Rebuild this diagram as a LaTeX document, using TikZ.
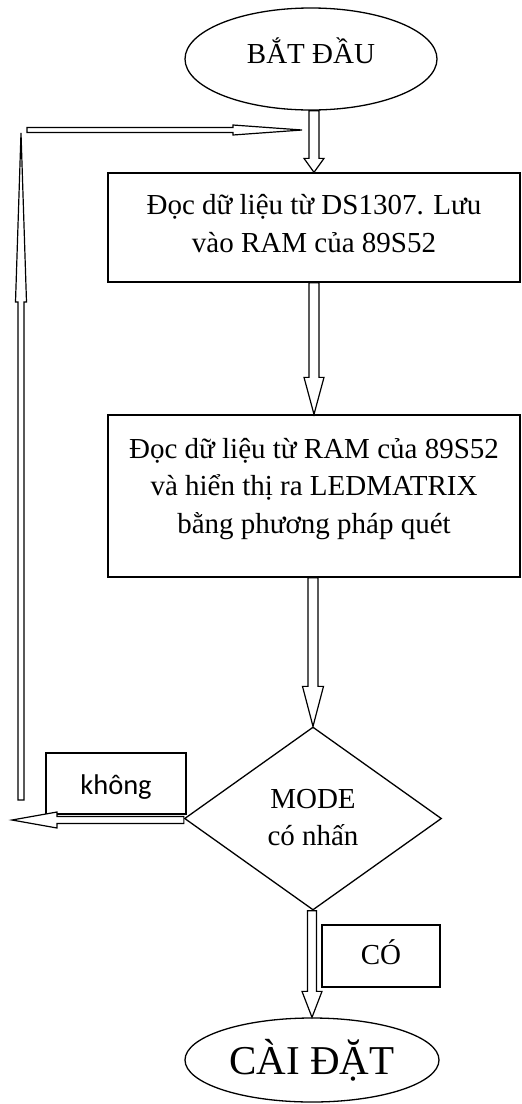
\documentclass[tikz,border=0pt]{standalone}
\usepackage{fontspec}
\setmainfont{Liberation Serif}
\newfontfamily\labelsans{Carlito}
\usetikzlibrary{shapes.geometric,calc}

% hollow block arrow, vertical: start, tip, shaft half width, head half width, head length
\newcommand\vblk[5]{%
  \draw[blk] let \p1=(#1), \p2=(#2), \p3=($(#2)!#5!(#1)$) in
    (\x2-#3,\y1) -- (\x2-#3,\y3) -- (\x2-#4,\y3) -- (\x2,\y2)
    -- (\x2+#4,\y3) -- (\x2+#3,\y3) -- (\x2+#3,\y1) -- cycle;}
% hollow block arrow, horizontal
\newcommand\hblk[5]{%
  \draw[blk] let \p1=(#1), \p2=(#2), \p3=($(#2)!#5!(#1)$) in
    (\x1,\y2-#3) -- (\x3,\y2-#3) -- (\x3,\y2-#4) -- (\x2,\y2)
    -- (\x3,\y2+#4) -- (\x3,\y2+#3) -- (\x1,\y2+#3) -- cycle;}

\tikzset{
  outline/.style={draw, line width=1.3pt, inner sep=0pt},
  blk/.style={draw, line width=1.2pt, fill=white, line join=miter},
  txt/.style={align=center, inner sep=0pt, font=\fontsize{29}{37.5}\selectfont},
  bigtxt/.style={align=center, inner sep=0pt, font=\fontsize{41}{48}\selectfont},
  sanstxt/.style={align=center, inner sep=0pt, font=\labelsans\fontsize{28.5}{34}\selectfont},
}

\begin{document}
\begin{tikzpicture}[x=1pt,y=-1pt]
\useasboundingbox (0,0) rectangle (522,1104);

% terminals, process boxes and decision
\node[outline, ellipse, minimum width=252pt, minimum height=102pt,
      label={[txt, yshift=8pt]center:BẮT ĐẦU}] (st) at (311,59) {};
\node[outline, rectangle, minimum width=412pt, minimum height=109pt,
      label={[txt, yshift=4pt]center:{Đọc dữ liệu từ DS1307. Lưu\\vào RAM của 89S52}}] (b1) at (314,227.5) {};
\node[outline, rectangle, minimum width=412pt, minimum height=162pt,
      label={[txt, yshift=7pt]center:{Đọc dữ liệu từ RAM của 89S52\\và hiển thị ra LEDMATRIX\\bằng phương pháp quét}}] (b2) at (314,496) {};
\node[outline, diamond, minimum width=257pt, minimum height=183pt,
      label={[txt, yshift=1pt]center:{MODE\\có nhấn}}] (d) at (313,818.5) {};
\node[outline, ellipse, minimum width=254pt, minimum height=84pt,
      label={[bigtxt]center:CÀI ĐẶT}] (en) at (312,1060) {};

% branch labels
\node[outline, rectangle, minimum width=140pt, minimum height=61pt,
      label={[sanstxt, yshift=-4pt]center:không}] (no) at (116,783.5) {};
\node[outline, rectangle, minimum width=118pt, minimum height=62pt,
      label={[txt, yshift=4pt]center:CÓ}] (yes) at (381,956) {};

% loop-back points
\coordinate (backtip) at (12,820);
\coordinate (upfoot) at (21,800);
\coordinate (uptip) at (21,133);
\coordinate (topfoot) at (27,130);
\coordinate (join) at (302,130);

% main flow
\vblk{st.south}{b1.north}{5}{10}{14pt}
\vblk{b1.south}{b2.north}{5}{10}{37pt}
\vblk{b2.south}{d.north}{5}{10.5}{40pt}
\vblk{d.south}{en.north}{4.5}{10}{26pt}

% return path
\hblk{d.west}{backtip}{3.5}{8}{45pt}
\vblk{upfoot}{uptip}{3}{5.5}{169pt}
\hblk{topfoot}{join}{2.5}{5}{69pt}
\end{tikzpicture}
\end{document}
